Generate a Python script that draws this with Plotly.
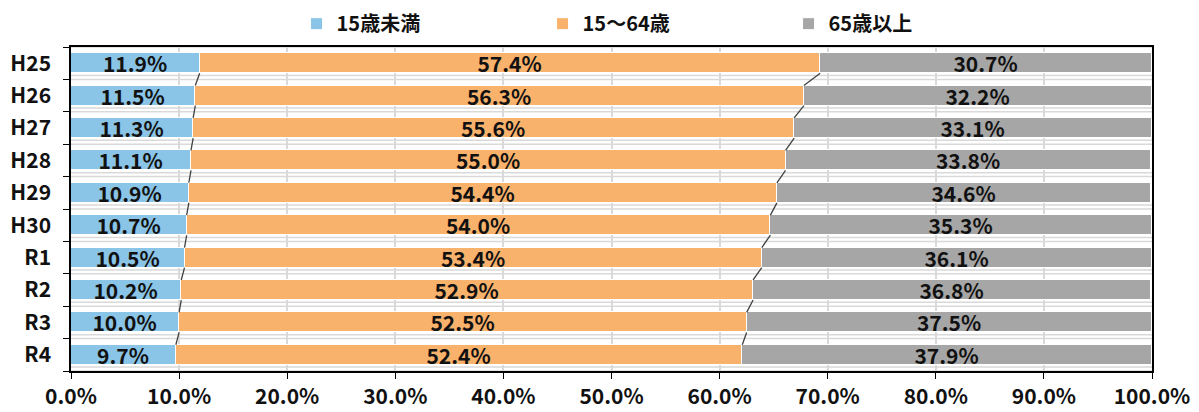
import plotly.graph_objects as go
import numpy as np

categories = ["H25", "H26", "H27", "H28", "H29", "H30", "R1", "R2", "R3", "R4"]
under15 = [11.9, 11.5, 11.3, 11.1, 10.9, 10.7, 10.5, 10.2, 10.0, 9.7]
age15_64 = [57.4, 56.3, 55.6, 55.0, 54.4, 54.0, 53.4, 52.9, 52.5, 52.4]
over65 = [30.7, 32.2, 33.1, 33.8, 34.6, 35.3, 36.1, 36.8, 37.5, 37.9]
series_names = ["15歳未満", "15～64歳", "65歳以上"]
colors = ["#8ac4e6", "#f9b26b", "#a6a6a6"]
xtick_vals = [0, 10, 20, 30, 40, 50, 60, 70, 80, 90, 100]
xtick_text = [f"{v:.1f}%" for v in xtick_vals]

FONT = "Noto Sans CJK JP"
FS = 21
ypos = list(range(len(categories)))
BAR_W = 0.62

fig = go.Figure()
for name, vals, col in zip(series_names, [under15, age15_64, over65], colors):
    fig.add_trace(go.Bar(
        y=ypos, x=vals, name=name, orientation="h", width=BAR_W,
        marker=dict(color=col, line=dict(color="white", width=1)),
        text=[f"{v:.1f}%" for v in vals], textposition="inside",
        insidetextanchor="middle",
        textfont=dict(family=FONT, size=FS, color="#111111", weight="bold"),
        hoverinfo="skip",
    ))

# series (connector) lines between consecutive bars
cum1 = np.array(under15)
cum2 = cum1 + np.array(age15_64)
for cum in (cum1, cum2):
    for i in range(len(categories) - 1):
        fig.add_trace(go.Scatter(
            x=[cum[i], cum[i + 1]], y=[i + BAR_W / 2, i + 1 - BAR_W / 2],
            mode="lines", line=dict(color="#404040", width=1.3),
            showlegend=False, hoverinfo="skip",
        ))

# light horizontal lines between category bands
shapes = []
for b in np.arange(-0.5, len(categories) - 0.4, 1.0):
    for off in (0.0, -0.12):
        yy = b + off
        if yy < -0.5 or yy > len(categories) - 0.5:
            continue
        shapes.append(dict(type="line", xref="paper", yref="y", x0=0, x1=1,
                           y0=yy, y1=yy, line=dict(color="#d9d9d9", width=1.5),
                           layer="below"))

# page body has an 8px margin: size the figure to fit the 1199x412 window
fig.update_layout(
    width=1191, height=404,
    barmode="stack", bargap=0,
    paper_bgcolor="white", plot_bgcolor="white",
    margin=dict(l=63, r=47, t=39, b=41, autoexpand=False),
    font=dict(family=FONT, size=FS, color="#111111"),
    uniformtext=dict(minsize=10, mode="show"),
    legend=dict(orientation="h", x=0.55, xanchor="center", y=1.072, yanchor="middle",
                font=dict(family=FONT, size=20, color="#111111", weight="bold"),
                entrywidth=201, entrywidthmode="pixels", traceorder="normal",
                itemwidth=30, bgcolor="rgba(0,0,0,0)"),
    shapes=shapes,
    xaxis=dict(range=[0, 100], tickvals=xtick_vals, ticktext=xtick_text,
               showgrid=True, gridcolor="#d9d9d9", gridwidth=2,
               showline=True, linecolor="#000000", linewidth=1.5, mirror=True,
               ticks="outside", ticklen=6, tickcolor="#000000",
               tickfont=dict(family=FONT, size=FS, color="#111111", weight="bold"),
               zeroline=False, fixedrange=True, automargin=False),
    yaxis=dict(range=[len(categories) - 0.5, -0.5], tickvals=ypos, ticktext=categories,
               showgrid=False, showline=True, linecolor="#000000", linewidth=1.5, mirror=True,
               ticks="", ticklen=0, ticklabelstandoff=14,
               minor=dict(tickmode="array", tickvals=[i + 0.5 for i in range(-1, len(categories))],
                          ticks="outside", ticklen=6, tickcolor="#000000", showgrid=False),
               tickfont=dict(family=FONT, size=FS, color="#111111", weight="bold"),
               zeroline=False, fixedrange=True, automargin=False),
)

fig.write_html("out.html")
